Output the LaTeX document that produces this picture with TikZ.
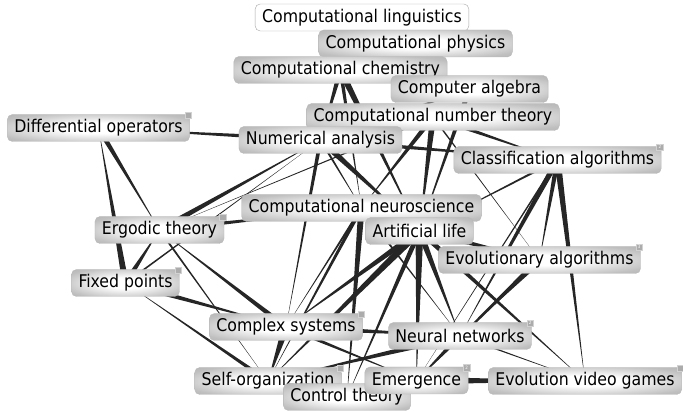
\documentclass[tikz,border=0pt]{standalone}
\usepackage{fontspec}
\setmainfont{DejaVu Sans Condensed}
\usetikzlibrary{calc, backgrounds}

% tapered connector: wide at #1, pointed at #2, half width #3 (pt)
\newcommand\taper[3]{%
    \fill[edge] ($(#1.center)!#3*1.3pt!90:(#2.center)$)
        -- ($(#1.center)!#3*1.3pt!-90:(#2.center)$)
        -- (#2.center) -- cycle;}
% small corner tag
\newcommand\badge[2]{%
    \node[badge] at ([xshift=-1.5pt,yshift=-1pt]#1.north east) {#2};}

% glossy fill of the topic boxes
\pgfdeclareradialshading{glow}{\pgfpoint{0bp}{0bp}}{%
    color(0bp)=(white); color(10bp)=(white);
    color(30bp)=(gray!50); color(50bp)=(gray!72)}

\begin{document}
\begin{tikzpicture}[
    x=1pt, y=-1pt,
    base/.style={
        rectangle, rounded corners=5pt, text=black,
        font=\fontsize{17.5}{19}\selectfont,
        inner xsep=7pt, inner ysep=0pt, minimum height=27pt
    },
    topic/.style={
        base, draw=gray!55, shading=glow
    },
    blank/.style={
        base, draw=gray!70, fill=white
    },
    edge/.style={fill=black!85},
    badge/.style={
        rectangle, fill=gray!65, draw=gray!35, minimum size=6.5pt,
        inner sep=0pt, text=white, font=\fontsize{4.5}{4.5}\selectfont
    },
]

\useasboundingbox (0,0) rectangle (683,411);

% ============================================================
% Topics (drawing order matters where boxes overlap)
% ============================================================

\node[blank] (ling)     at (362,17.5)  {Computational linguistics};
\node[topic] (phys)     at (415.5,43.5) {Computational physics};
\node[topic] (chem)     at (340.5,70)  {Computational chemistry};
\node[topic] (alg)      at (469.5,89)  {Computer algebra};
\node[topic] (numth)    at (433,117)   {Computational number theory};
\node[topic] (numan)    at (320.5,140) {Numerical analysis};
\node[topic] (diffop)   at (98.5,128)  {Differential operators};
\node[topic] (classif)  at (557.5,160) {Classification algorithms};
\node[topic] (neuro)    at (361.5,208) {Computational neuroscience};
\node[topic] (alife)    at (419.5,231) {Artificial life};
\node[topic] (ergodic)  at (159.5,230) {Ergodic theory};
\node[topic] (evoalg)   at (539.5,260) {Evolutionary algorithms};
\node[topic] (fixed)    at (125.5,283) {Fixed points};
\node[topic] (complex)  at (286,327)   {Complex systems};
\node[topic] (neural)   at (460,336)   {Neural networks};
\node[topic] (selforg)  at (268,381)   {Self-organization};
\node[topic] (control)  at (347,397)   {Control theory};
\node[topic] (emerg)    at (416.5,380.5) {Emergence};
\node[topic] (evogames) at (585,381)   {Evolution video games};

\badge{diffop}{}
\badge{classif}{2}
\badge{ergodic}{}
\badge{evoalg}{3}
\badge{fixed}{}
\badge{complex}{}
\badge{neural}{2}
\badge{selforg}{}
\badge{emerg}{2}
\badge{evogames}{}

% ============================================================
% Links
% ============================================================

\begin{pgfonlayer}{background}
% left cluster
\taper{numan}{diffop}{2}
\taper{fixed}{diffop}{2.5}
\taper{diffop}{ergodic}{2}
\taper{fixed}{ergodic}{2.2}
\taper{ergodic}{numan}{2.2}
\taper{numth}{ergodic}{0.7}
\taper{ergodic}{neuro}{1.8}
\taper{complex}{ergodic}{2}
\taper{ergodic}{selforg}{0.8}
\taper{fixed}{numan}{0.7}
\taper{fixed}{complex}{2.2}
\taper{selforg}{fixed}{1.5}
% upper fan
\taper{chem}{numan}{2}
\taper{chem}{alife}{2.5}
\taper{chem}{neuro}{1.5}
\taper{alg}{chem}{1.2}
\taper{alg}{alife}{2}
\taper{alg}{numan}{1}
\taper{numth}{alife}{2.5}
\taper{numth}{neuro}{2}
\taper{numth}{classif}{1.8}
\taper{numth}{evoalg}{0.6}
\taper{numan}{neuro}{1}
\taper{numan}{alife}{2.5}
\taper{numan}{classif}{2}
\taper{numan}{complex}{1.5}
% lower fan
\taper{alife}{complex}{2.5}
\taper{alife}{selforg}{3}
\taper{alife}{emerg}{3}
\taper{alife}{control}{2}
\taper{alife}{neural}{2.5}
\taper{alife}{evoalg}{2.5}
\taper{alife}{evogames}{2}
\taper{neuro}{complex}{1}
\taper{neuro}{control}{2.5}
\taper{neuro}{neural}{1}
\taper{neuro}{selforg}{1.5}
% right cluster
\taper{classif}{evoalg}{2}
\taper{classif}{neural}{2.2}
\taper{classif}{evogames}{2.5}
\taper{classif}{alife}{1}
\taper{classif}{emerg}{0.7}
\taper{evoalg}{neural}{2.5}
\taper{evoalg}{emerg}{1}
\taper{neural}{evogames}{0.7}
\taper{emerg}{evogames}{3}
% bottom row
\taper{complex}{neural}{2.5}
\taper{complex}{selforg}{3}
\taper{complex}{emerg}{1.5}
\taper{neural}{selforg}{2.5}
\taper{neural}{emerg}{2}
\taper{selforg}{control}{1.5}
\taper{control}{emerg}{1.5}
\end{pgfonlayer}

\end{tikzpicture}
\end{document}
